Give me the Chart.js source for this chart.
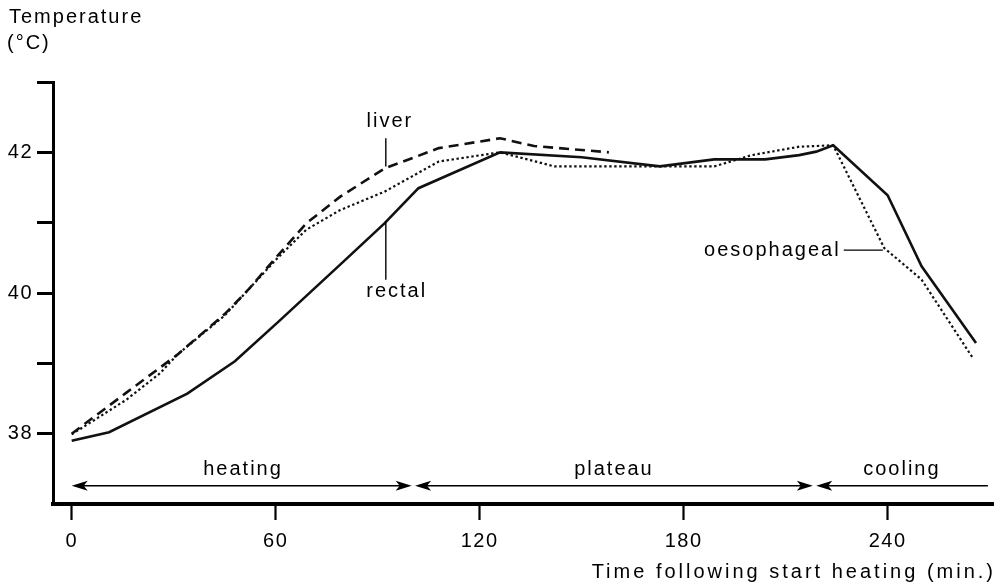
<!DOCTYPE html>
<html>
<head>
<meta charset="utf-8">
<script src="https://cdn.jsdelivr.net/npm/chart.js@4.4.1/dist/chart.umd.min.js"></script>
<style>
  html, body { margin: 0; padding: 0; background: #fff; }
  canvas { display: block; }
</style>
</head>
<body>
<canvas id="c" width="1002" height="584"></canvas>
<script>
// ---- data ----
const rectalTime = [0, 11, 34, 48, 61, 80, 92, 102, 126, 150, 173, 189, 204, 214, 219, 224, 240, 250, 266];
const rectalTemp = [37.9, 38.02, 38.57, 39.03, 39.6, 40.45, 40.99, 41.49, 42.0, 41.93, 41.8, 41.9, 41.9, 41.96, 42.01, 42.1, 41.39, 40.38, 39.29];

const liverTime = [0, 16, 31, 45, 52, 60, 69, 79, 92, 108, 126, 136, 158];
const liverTemp = [38.0, 38.58, 39.12, 39.7, 40.05, 40.5, 40.99, 41.37, 41.77, 42.06, 42.2, 42.09, 42.0];

const oesoTime = [0, 16, 26, 31, 45, 60, 69, 79, 92, 108, 126, 142, 172, 189, 200, 214, 224, 239, 250, 265];
const oesoTemp = [37.99, 38.48, 38.86, 39.12, 39.68, 40.47, 40.9, 41.18, 41.44, 41.87, 42.0, 41.8, 41.8, 41.8, 41.96, 42.08, 42.1, 40.64, 40.19, 39.08];

const xTicks = [0, 60, 120, 180, 240];
const yTicks = [38, 39, 40, 41, 42, 43];
const yLabelled = [38, 40, 42];

const xTitle = 'Time following start heating (min.)';
const yTitleLines = ['Temperature', '(°C)'];

// annotations in data units
const seriesLabels = [
  { text: 'liver', x: 93.6, y: 42.44 },
  { text: 'rectal', x: 95.6, y: 40.02 },
  { text: 'oesophageal', x: 206.1, y: 40.61 }
];
const pointers = [
  { x1: 92.4, y1: 42.2, x2: 92.4, y2: 41.8 },
  { x1: 92.4, y1: 41.02, x2: 92.4, y2: 40.19 },
  { x1: 227.1, y1: 40.61, x2: 238.6, y2: 40.61 }
];
const phases = [
  { label: 'heating', from: 0, to: 100, headFrom: true, headTo: true, labelX: 50.4 },
  { label: 'plateau', from: 101, to: 218, headFrom: true, headTo: true, labelX: 159.5 },
  { label: 'cooling', from: 219, to: 269.5, headFrom: true, headTo: false, labelX: 244.2 }
];
const phaseArrowY = 37.26;
const phaseLabelY = 37.49;

const FONT = '"Liberation Sans", Arial, Helvetica, sans-serif';

const toPts = (t, v) => t.map((x, i) => ({ x, y: v[i] }));

const annot = {
  id: 'annot',
  beforeDraw(chart) { chart.ctx.letterSpacing = '1.5px'; },
  afterDraw(chart) {
    const { ctx, scales: { x, y }, chartArea } = chart;
    const X = v => x.getPixelForValue(v), Y = v => y.getPixelForValue(v);
    ctx.save();
    ctx.fillStyle = '#000';
    ctx.strokeStyle = '#000';
    ctx.font = '20px ' + FONT;
    ctx.textBaseline = 'middle';
    ctx.letterSpacing = '2px';

    // y title (top-left)
    ctx.textAlign = 'left';
    ctx.fillText(yTitleLines[0], 9, 17);
    ctx.fillText(yTitleLines[1], 7, 43);

    // x title
    ctx.letterSpacing = '3px';
    ctx.textAlign = 'right';
    ctx.fillText(xTitle, chartArea.right + 3, 572);
    ctx.letterSpacing = '2px';

    // series labels
    ctx.textAlign = 'center';
    for (const l of seriesLabels) ctx.fillText(l.text, X(l.x), Y(l.y));

    ctx.lineWidth = 1.4;
    for (const p of pointers) {
      ctx.beginPath();
      ctx.moveTo(X(p.x1), Y(p.y1));
      ctx.lineTo(X(p.x2), Y(p.y2));
      ctx.stroke();
    }

    // phase arrows
    const ay = Y(phaseArrowY);
    const head = (tipX, dir) => {
      const L = 16, H = 5, N = 4;
      ctx.beginPath();
      ctx.moveTo(tipX, ay);
      ctx.lineTo(tipX - dir * L, ay - H);
      ctx.lineTo(tipX - dir * (L - N), ay);
      ctx.lineTo(tipX - dir * L, ay + H);
      ctx.closePath();
      ctx.fill();
    };
    for (const ph of phases) {
      const a = X(ph.from), b = X(ph.to);
      ctx.lineWidth = 1.4;
      ctx.beginPath();
      ctx.moveTo(a + (ph.headFrom ? 6 : 0), ay);
      ctx.lineTo(b - (ph.headTo ? 6 : 0), ay);
      ctx.stroke();
      if (ph.headFrom) head(a, -1);
      if (ph.headTo) head(b, 1);
      ctx.textAlign = 'center';
      ctx.fillText(ph.label, X(ph.labelX), Y(phaseLabelY));
    }
    ctx.restore();
  }
};

new Chart(document.getElementById('c'), {
  type: 'line',
  data: {
    datasets: [
      { label: 'rectal', data: toPts(rectalTime, rectalTemp), borderColor: '#111', borderWidth: 2.6,
        pointRadius: 0, tension: 0, fill: false },
      { label: 'liver', data: toPts(liverTime, liverTemp), borderColor: '#111', borderWidth: 2.6,
        borderDash: [10, 6], pointRadius: 0, tension: 0, fill: false },
      { label: 'oesophageal', data: toPts(oesoTime, oesoTemp), borderColor: '#111', borderWidth: 2.2,
        borderDash: [2.4, 2.6], pointRadius: 0, tension: 0, fill: false }
    ]
  },
  options: {
    responsive: false,
    animation: false,
    events: [],
    layout: { padding: { top: 82, right: 9, left: 0, bottom: 0 } },
    plugins: { legend: { display: false }, tooltip: { enabled: false } },
    scales: {
      x: {
        type: 'linear', min: -5.5, max: 271,
        afterBuildTicks: a => { a.ticks = xTicks.map(v => ({ value: v })); },
        afterFit: a => { a.height = 80; },
        grid: { drawOnChartArea: false, drawTicks: true, tickLength: 16, tickWidth: 2.2, tickColor: '#000' },
        border: { display: true, width: 4, color: '#000' },
        ticks: { color: '#000', font: { size: 20, family: FONT }, padding: 9, maxRotation: 0, autoSkip: false }
      },
      y: {
        type: 'linear', min: 37, max: 43,
        afterBuildTicks: a => { a.ticks = yTicks.map(v => ({ value: v })); },
        afterFit: a => { a.width = 53; },
        grid: { drawOnChartArea: false, drawTicks: true, tickLength: 16, tickWidth: 3, tickColor: '#000' },
        border: { display: true, width: 3, color: '#000' },
        ticks: { color: '#000', font: { size: 20, family: FONT }, padding: 4, autoSkip: false,
                 callback: v => yLabelled.includes(v) ? String(v) : '' }
      }
    }
  },
  plugins: [annot]
});
</script>
</body>
</html>
